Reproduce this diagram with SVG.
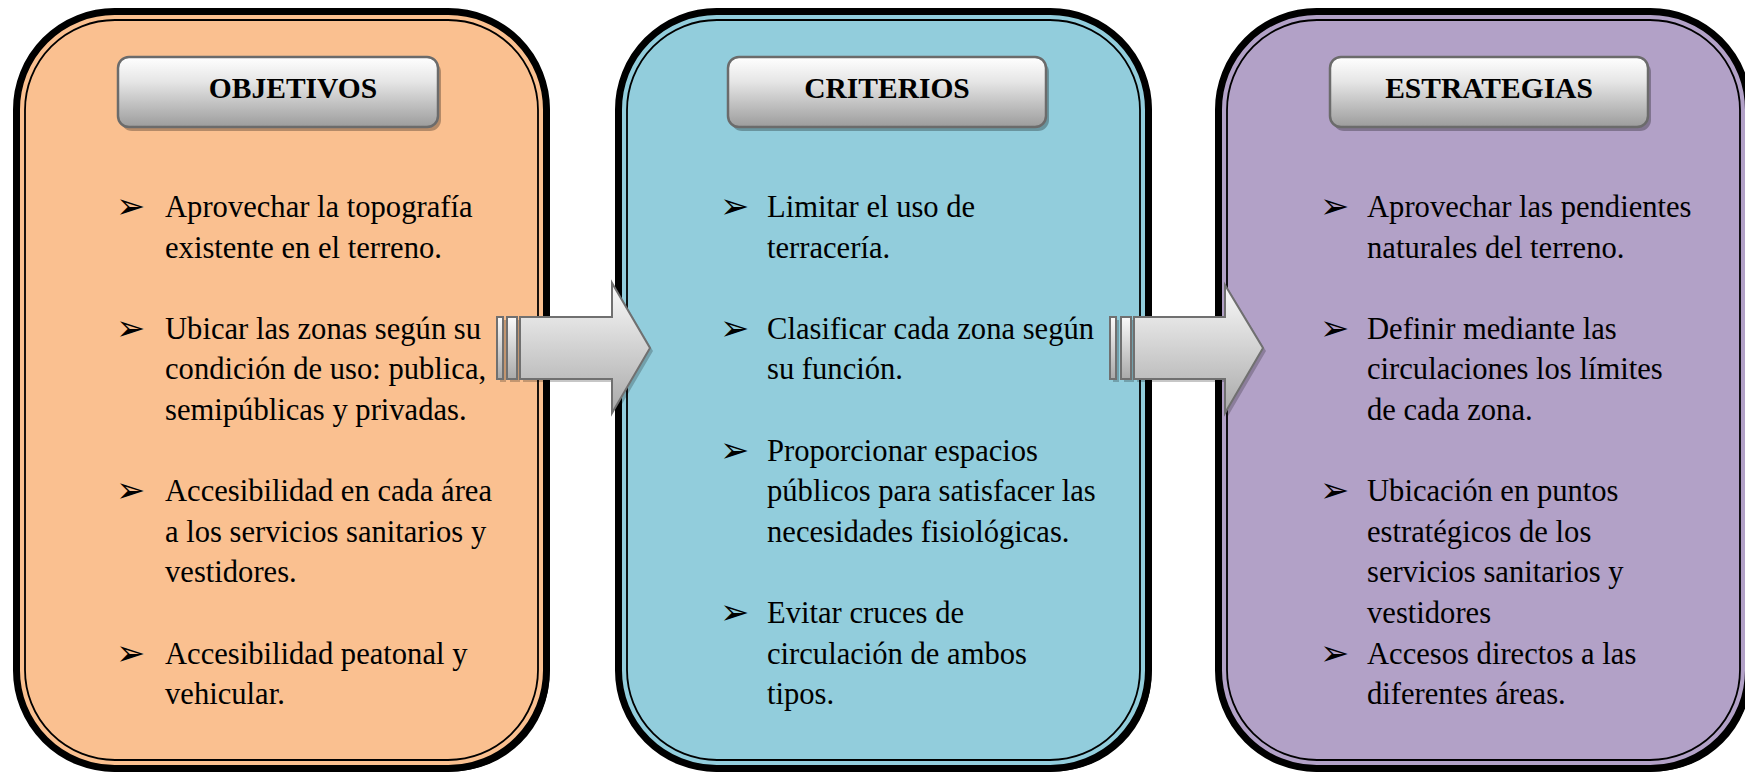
<svg xmlns="http://www.w3.org/2000/svg" width="1745" height="775" viewBox="0 0 1745 775">
<defs>
<linearGradient id="hdrGrad" x1="0" y1="0" x2="0" y2="1">
<stop offset="0" stop-color="#FFFFFF"/>
<stop offset="0.35" stop-color="#E6E6E6"/>
<stop offset="1" stop-color="#9C9C9C"/>
</linearGradient>
<linearGradient id="arrGrad" x1="0" y1="0" x2="0" y2="1">
<stop offset="0" stop-color="#FAFAFA"/>
<stop offset="1" stop-color="#A9A9A9"/>
</linearGradient>
</defs>
<style>
.shadow{fill:#000}
.outer{stroke:#000;stroke-width:7}
.inner{fill:none;stroke:#000;stroke-width:1.8}
.hdr{fill:url(#hdrGrad);stroke:#6B6B6B;stroke-width:2.5}
.hdrsh{fill:#000;opacity:0.28}
.htxt{font-family:"Liberation Serif","Times New Roman",serif;font-weight:bold;font-size:29.5px;fill:#000;text-anchor:middle}
.body{font-family:"Liberation Serif","Times New Roman",serif;font-size:30.6px;fill:#000}
.bul{font-family:"DejaVu Sans",sans-serif;font-size:35px;fill:#000}
.arr{fill:url(#arrGrad);stroke:#707070;stroke-width:2}
.arrsh{fill:#000;opacity:0.22}
</style>

<g id="panel-objetivos">
<rect class="shadow" x="18.5" y="13.5" width="531" height="758" rx="98"/>
<rect class="outer" x="16.5" y="11.5" width="530" height="757" rx="98" fill="#FAC090"/>
<rect class="inner" x="25" y="20" width="513" height="740" rx="90"/>
<rect class="hdrsh" x="121" y="61" width="320" height="70" rx="11"/>
<rect class="hdr" x="118" y="57" width="320" height="70" rx="11"/>
<text class="htxt" x="293" y="98">OBJETIVOS</text>
<text class="bul" x="116" y="218">➢</text>
<text class="bul" x="116" y="340">➢</text>
<text class="bul" x="116" y="502">➢</text>
<text class="bul" x="116" y="665">➢</text>
<text class="body">
<tspan x="165" y="217">Aprovechar la topografía</tspan>
<tspan x="165" y="257.6">existente en el terreno.</tspan>
<tspan x="165" y="338.8">Ubicar las zonas según su</tspan>
<tspan x="165" y="379.4">condición de uso: publica,</tspan>
<tspan x="165" y="420">semipúblicas y privadas.</tspan>
<tspan x="165" y="501.2">Accesibilidad en cada área</tspan>
<tspan x="165" y="541.8">a los servicios sanitarios y</tspan>
<tspan x="165" y="582.4">vestidores.</tspan>
<tspan x="165" y="663.6">Accesibilidad peatonal y</tspan>
<tspan x="165" y="704.2">vehicular.</tspan>
</text>
</g>

<g id="panel-criterios">
<rect class="shadow" x="620.5" y="13.5" width="531" height="758" rx="98"/>
<rect class="outer" x="618.5" y="11.5" width="530" height="757" rx="98" fill="#92CDDC"/>
<rect class="inner" x="627" y="20" width="513" height="740" rx="90"/>
<rect class="hdrsh" x="731" y="61" width="318" height="70" rx="11"/>
<rect class="hdr" x="728" y="57" width="318" height="70" rx="11"/>
<text class="htxt" x="887" y="98">CRITERIOS</text>
<text class="bul" x="720" y="218">➢</text>
<text class="bul" x="720" y="340">➢</text>
<text class="bul" x="720" y="462">➢</text>
<text class="bul" x="720" y="624">➢</text>
<text class="body">
<tspan x="767" y="217">Limitar el uso de</tspan>
<tspan x="767" y="257.6">terracería.</tspan>
<tspan x="767" y="338.8">Clasificar cada zona según</tspan>
<tspan x="767" y="379.4">su función.</tspan>
<tspan x="767" y="460.6">Proporcionar espacios</tspan>
<tspan x="767" y="501.2">públicos para satisfacer las</tspan>
<tspan x="767" y="541.8">necesidades fisiológicas.</tspan>
<tspan x="767" y="623">Evitar cruces de</tspan>
<tspan x="767" y="663.6">circulación de ambos</tspan>
<tspan x="767" y="704.2">tipos.</tspan>
</text>
</g>

<g id="panel-estrategias">
<rect class="shadow" x="1220.5" y="13.5" width="531" height="758" rx="98"/>
<rect class="outer" x="1218.5" y="11.5" width="530" height="757" rx="98" fill="#B2A1C7"/>
<rect class="inner" x="1227" y="20" width="513" height="740" rx="90"/>
<rect class="hdrsh" x="1333" y="61" width="318" height="70" rx="11"/>
<rect class="hdr" x="1330" y="57" width="318" height="70" rx="11"/>
<text class="htxt" x="1489" y="98">ESTRATEGIAS</text>
<text class="bul" x="1320" y="218">➢</text>
<text class="bul" x="1320" y="340">➢</text>
<text class="bul" x="1320" y="502">➢</text>
<text class="bul" x="1320" y="665">➢</text>
<text class="body">
<tspan x="1367" y="217">Aprovechar las pendientes</tspan>
<tspan x="1367" y="257.6">naturales del terreno.</tspan>
<tspan x="1367" y="338.8">Definir mediante las</tspan>
<tspan x="1367" y="379.4">circulaciones los límites</tspan>
<tspan x="1367" y="420">de cada zona.</tspan>
<tspan x="1367" y="501.2">Ubicación en puntos</tspan>
<tspan x="1367" y="541.8">estratégicos de los</tspan>
<tspan x="1367" y="582.4">servicios sanitarios y</tspan>
<tspan x="1367" y="623">vestidores</tspan>
<tspan x="1367" y="663.6">Accesos directos a las</tspan>
<tspan x="1367" y="704.2">diferentes áreas.</tspan>
</text>
</g>

<g id="connectors">
<g id="arrow-1">
<rect class="arrsh" x="500" y="320" width="6" height="62"/>
<rect class="arrsh" x="510" y="320" width="10" height="62"/>
<polygon class="arrsh" points="523,320 615,320 615,286 653,351 615,416 615,382 523,382"/>
<rect class="arr" x="497" y="317" width="6" height="62"/>
<rect class="arr" x="507" y="317" width="10" height="62"/>
<polygon class="arr" points="520,317 612,317 612,283 650,348 612,413 612,379 520,379"/>
</g>
<g id="arrow-2">
<rect class="arrsh" x="1113" y="320" width="6" height="62"/>
<rect class="arrsh" x="1124" y="320" width="10" height="62"/>
<polygon class="arrsh" points="1137,320 1228,320 1228,288 1266,351 1228,416 1228,382 1137,382"/>
<rect class="arr" x="1110" y="317" width="6" height="62"/>
<rect class="arr" x="1121" y="317" width="10" height="62"/>
<polygon class="arr" points="1134,317 1225,317 1225,285 1263,348 1225,413 1225,379 1134,379"/>
</g>
</g>
</svg>
